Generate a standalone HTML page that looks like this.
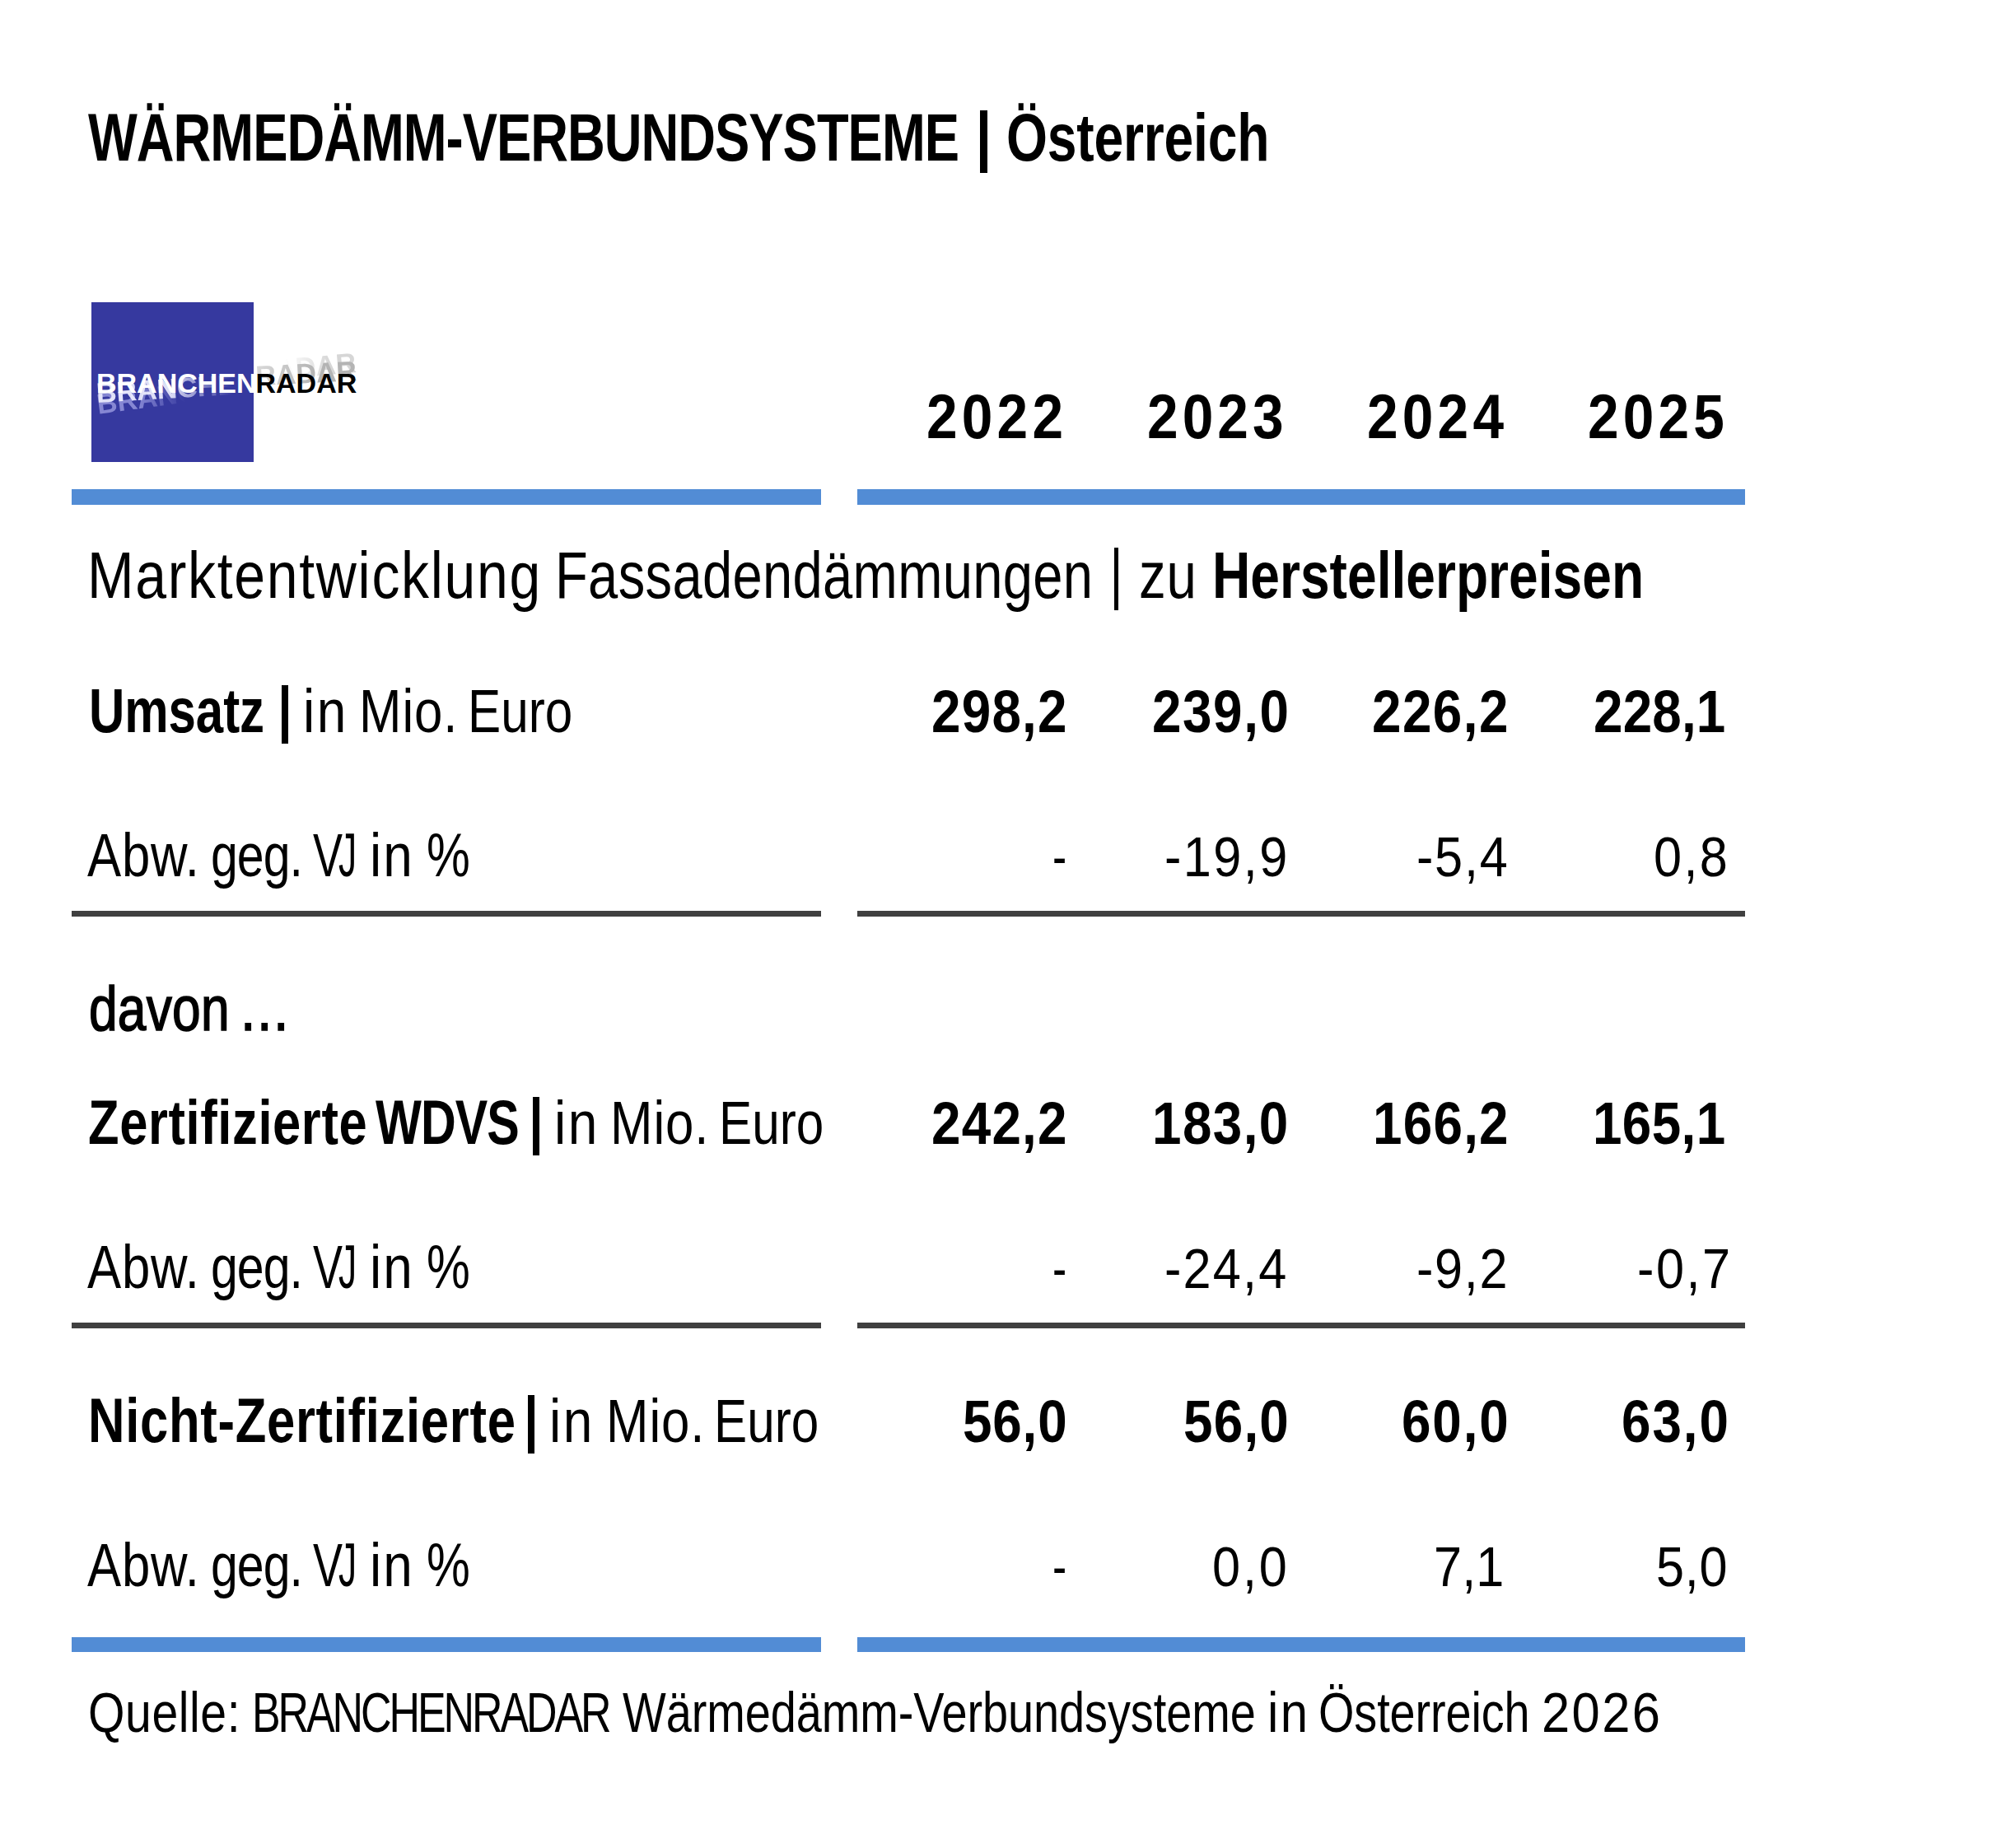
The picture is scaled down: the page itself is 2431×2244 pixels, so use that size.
<!DOCTYPE html>
<html lang="de"><head><meta charset="utf-8"><title>Wärmedämm-Verbundsysteme Österreich</title>
<style>
html,body{margin:0;padding:0;background:#fff;}
body{width:2431px;height:2244px;position:relative;overflow:hidden;font-family:"Liberation Sans",sans-serif;color:#000;}
.t{position:absolute;line-height:1;white-space:nowrap;transform-origin:0 0;}
.bar{position:absolute;background:#528cd5;}
.gl{position:absolute;background:#404040;}
.pp{position:absolute;background:#000;}
.logo{position:absolute;left:111px;top:367px;width:197px;height:194px;background:#36399f;overflow:hidden;}
.lg{position:absolute;line-height:1;white-space:nowrap;font-weight:700;transform-origin:0 0;}
</style></head><body>
<div class="logo">
<div class="lg" style="left:6px;top:81px;font-size:34px;color:#c8c8ff;opacity:.55;transform-origin:197px 24px;transform:rotate(-7.5deg);-webkit-mask-image:linear-gradient(90deg,#000 0,#000 25%,transparent 55%);mask-image:linear-gradient(90deg,#000 0,#000 25%,transparent 55%)">BRANCHEN</div>
<div class="lg" style="left:6px;top:81px;font-size:34px;color:#f0f0ff;opacity:.9;transform-origin:197px 24px;transform:rotate(-3.5deg);-webkit-mask-image:linear-gradient(90deg,#000 0,#000 45%,transparent 85%);mask-image:linear-gradient(90deg,#000 0,#000 45%,transparent 85%)">BRANCHEN</div>
<div class="lg" style="left:6px;top:81px;font-size:34px;color:#fff">BRANCHEN</div>
</div>
<div class="lg" style="left:310.5px;top:448px;font-size:34px;color:#d6d6d6;transform-origin:-165px 24px;transform:rotate(-5deg);-webkit-mask-image:linear-gradient(90deg,transparent 0,transparent 30%,#000 75%);mask-image:linear-gradient(90deg,transparent 0,transparent 30%,#000 75%)">RADAR</div>
<div class="lg" style="left:310.5px;top:448px;font-size:34px;color:#b4b4b4;transform-origin:-165px 24px;transform:rotate(-3deg);-webkit-mask-image:linear-gradient(90deg,rgba(0,0,0,.5) 0,#000 60%);mask-image:linear-gradient(90deg,rgba(0,0,0,.5) 0,#000 60%)">RADAR</div>
<div class="lg" style="left:310.5px;top:448px;font-size:34px;color:#000">RADAR</div>
<div class="bar" style="left:87px;top:594px;width:910px;height:19px"></div>
<div class="bar" style="left:1041px;top:594px;width:1078px;height:19px"></div>
<div class="gl" style="left:87px;top:1106px;width:910px;height:7px"></div>
<div class="gl" style="left:1041px;top:1106px;width:1078px;height:7px"></div>
<div class="gl" style="left:87px;top:1606px;width:910px;height:7px"></div>
<div class="gl" style="left:1041px;top:1606px;width:1078px;height:7px"></div>
<div class="bar" style="left:87px;top:1988px;width:910px;height:18px"></div>
<div class="bar" style="left:1041px;top:1988px;width:1078px;height:18px"></div>
<div class="pp" style="left:1190px;top:134px;width:8.5px;height:76px"></div>
<div class="pp" style="left:1352.5px;top:665px;width:5px;height:76px"></div>
<div class="pp" style="left:341.5px;top:832px;width:8.5px;height:71px"></div>
<div class="pp" style="left:647px;top:1332px;width:8px;height:71px"></div>
<div class="pp" style="left:641px;top:1694px;width:8.3px;height:71px"></div>
<div class="t" style="left:106.50px;top:126.80px;font-size:80.8px;font-weight:700;letter-spacing:-1.23px;transform:scaleX(0.7838)">WÄRMEDÄMM-VERBUNDSYSTEME</div>
<div class="t" style="left:1221.61px;top:126.80px;font-size:80.8px;font-weight:700;letter-spacing:-0.27px;transform:scaleX(0.7952)">Österreich</div>
<div class="t" style="left:1125.22px;top:468.00px;font-size:76px;font-weight:700;letter-spacing:5.82px;transform:scaleX(0.8900)">2022</div>
<div class="t" style="left:1393.22px;top:468.00px;font-size:76px;font-weight:700;letter-spacing:5.67px;transform:scaleX(0.8900)">2023</div>
<div class="t" style="left:1660.22px;top:468.00px;font-size:76px;font-weight:700;letter-spacing:5.83px;transform:scaleX(0.8900)">2024</div>
<div class="t" style="left:1928.22px;top:468.00px;font-size:76px;font-weight:700;letter-spacing:5.75px;transform:scaleX(0.8900)">2025</div>
<div class="t" style="left:105.83px;top:660.00px;font-size:78.8px;letter-spacing:1.96px;transform:scaleX(0.8623)">Marktentwicklung</div>
<div class="t" style="left:674.04px;top:660.00px;font-size:78.8px;letter-spacing:0.38px;transform:scaleX(0.8265)">Fassadendämmungen</div>
<div class="t" style="left:1383.31px;top:660.00px;font-size:78.8px;letter-spacing:0.90px;transform:scaleX(0.8300)">zu</div>
<div class="t" style="left:1471.70px;top:659.00px;font-size:80px;font-weight:700;letter-spacing:0.04px;transform:scaleX(0.8009)">Herstellerpreisen</div>
<div class="t" style="left:107.60px;top:825.80px;font-size:75.1px;font-weight:700;letter-spacing:-0.08px;transform:scaleX(0.7989)">Umsatz</div>
<div class="t" style="left:367.64px;top:827.80px;font-size:73.4px;letter-spacing:2.89px;transform:scaleX(0.8725)">in</div>
<div class="t" style="left:435.85px;top:827.80px;font-size:73.4px;letter-spacing:1.10px;transform:scaleX(0.8421)">Mio.</div>
<div class="t" style="left:567.58px;top:827.80px;font-size:73.4px;letter-spacing:0.02px;transform:scaleX(0.8203)">Euro</div>
<div class="t" style="left:1131.22px;top:828.80px;font-size:71.7px;font-weight:700;letter-spacing:1.36px;transform:scaleX(0.8900)">298,2</div>
<div class="t" style="left:1398.82px;top:828.80px;font-size:71.7px;font-weight:700;letter-spacing:1.76px;transform:scaleX(0.8900)">239,0</div>
<div class="t" style="left:1666.22px;top:828.80px;font-size:71.7px;font-weight:700;letter-spacing:1.62px;transform:scaleX(0.8900)">226,2</div>
<div class="t" style="left:1935.12px;top:828.80px;font-size:71.7px;font-weight:700;letter-spacing:0.16px;transform:scaleX(0.8900)">228,1</div>
<div class="t" style="left:106.20px;top:1001.80px;font-size:73.9px;letter-spacing:0.90px;transform:scaleX(0.8347)">Abw.</div>
<div class="t" style="left:256.40px;top:1001.80px;font-size:73.9px;letter-spacing:-1.21px;transform:scaleX(0.7984)">geg.</div>
<div class="t" style="left:380.10px;top:1001.80px;font-size:73.9px;transform:scaleX(0.7306)">V</div>
<div class="t" style="left:410.70px;top:1001.80px;font-size:73.9px;transform:scaleX(0.6000)">J</div>
<div class="t" style="left:449.47px;top:1001.80px;font-size:73.9px;letter-spacing:2.51px;transform:scaleX(0.8652)">in</div>
<div class="t" style="left:517.69px;top:1001.80px;font-size:73.9px;transform:scaleX(0.8033)">%</div>
<div class="t" style="left:1278.32px;top:1005.80px;font-size:68px;transform:scaleX(0.7588)">-</div>
<div class="t" style="left:1414.10px;top:1005.80px;font-size:68px;letter-spacing:2.72px;transform:scaleX(0.9000)">-19,9</div>
<div class="t" style="left:1720.30px;top:1005.80px;font-size:68px;letter-spacing:1.93px;transform:scaleX(0.9000)">-5,4</div>
<div class="t" style="left:2008.30px;top:1005.80px;font-size:68px;letter-spacing:2.61px;transform:scaleX(0.9000)">0,8</div>
<div class="t" style="left:107.85px;top:1187.70px;font-size:75.3px;-webkit-text-stroke:1.6px #000;letter-spacing:0.35px;transform:scaleX(0.8258)">davon</div>
<div class="t" style="left:291.52px;top:1187.70px;font-size:75.3px;-webkit-text-stroke:1.6px #000;letter-spacing:1.75px;transform:scaleX(0.8806)">...</div>
<div class="t" style="left:106.76px;top:1326.00px;font-size:75.1px;font-weight:700;letter-spacing:0.75px;transform:scaleX(0.8185)">Zertifizierte</div>
<div class="t" style="left:455.60px;top:1326.00px;font-size:75.1px;font-weight:700;letter-spacing:-1.14px;transform:scaleX(0.7879)">WDVS</div>
<div class="t" style="left:672.64px;top:1328.00px;font-size:73.4px;letter-spacing:2.89px;transform:scaleX(0.8725)">in</div>
<div class="t" style="left:740.85px;top:1328.00px;font-size:73.4px;letter-spacing:1.10px;transform:scaleX(0.8421)">Mio.</div>
<div class="t" style="left:872.58px;top:1328.00px;font-size:73.4px;letter-spacing:0.02px;transform:scaleX(0.8203)">Euro</div>
<div class="t" style="left:1131.22px;top:1329.00px;font-size:71.7px;font-weight:700;letter-spacing:1.36px;transform:scaleX(0.8900)">242,2</div>
<div class="t" style="left:1399.44px;top:1329.00px;font-size:71.7px;font-weight:700;letter-spacing:1.58px;transform:scaleX(0.8900)">183,0</div>
<div class="t" style="left:1667.04px;top:1329.00px;font-size:71.7px;font-weight:700;letter-spacing:1.38px;transform:scaleX(0.8900)">166,2</div>
<div class="t" style="left:1934.44px;top:1329.00px;font-size:71.7px;font-weight:700;letter-spacing:0.43px;transform:scaleX(0.8900)">165,1</div>
<div class="t" style="left:106.20px;top:1502.00px;font-size:73.9px;letter-spacing:0.90px;transform:scaleX(0.8347)">Abw.</div>
<div class="t" style="left:256.40px;top:1502.00px;font-size:73.9px;letter-spacing:-1.21px;transform:scaleX(0.7984)">geg.</div>
<div class="t" style="left:380.10px;top:1502.00px;font-size:73.9px;transform:scaleX(0.7306)">V</div>
<div class="t" style="left:410.70px;top:1502.00px;font-size:73.9px;transform:scaleX(0.6000)">J</div>
<div class="t" style="left:449.47px;top:1502.00px;font-size:73.9px;letter-spacing:2.51px;transform:scaleX(0.8652)">in</div>
<div class="t" style="left:517.69px;top:1502.00px;font-size:73.9px;transform:scaleX(0.8033)">%</div>
<div class="t" style="left:1278.32px;top:1506.00px;font-size:68px;transform:scaleX(0.7588)">-</div>
<div class="t" style="left:1414.10px;top:1506.00px;font-size:68px;letter-spacing:2.47px;transform:scaleX(0.9000)">-24,4</div>
<div class="t" style="left:1720.30px;top:1506.00px;font-size:68px;letter-spacing:1.85px;transform:scaleX(0.9000)">-9,2</div>
<div class="t" style="left:1987.50px;top:1506.00px;font-size:68px;letter-spacing:2.78px;transform:scaleX(0.9000)">-0,7</div>
<div class="t" style="left:107.10px;top:1687.80px;font-size:75.1px;font-weight:700;letter-spacing:0.84px;transform:scaleX(0.8203)">Nicht-Zertifizierte</div>
<div class="t" style="left:667.44px;top:1689.80px;font-size:73.4px;letter-spacing:2.89px;transform:scaleX(0.8725)">in</div>
<div class="t" style="left:735.65px;top:1689.80px;font-size:73.4px;letter-spacing:1.10px;transform:scaleX(0.8421)">Mio.</div>
<div class="t" style="left:867.38px;top:1689.80px;font-size:73.4px;letter-spacing:0.02px;transform:scaleX(0.8203)">Euro</div>
<div class="t" style="left:1169.22px;top:1690.80px;font-size:71.7px;font-weight:700;letter-spacing:0.92px;transform:scaleX(0.8900)">56,0</div>
<div class="t" style="left:1437.02px;top:1690.80px;font-size:71.7px;font-weight:700;letter-spacing:1.37px;transform:scaleX(0.8900)">56,0</div>
<div class="t" style="left:1701.92px;top:1690.80px;font-size:71.7px;font-weight:700;letter-spacing:2.12px;transform:scaleX(0.8900)">60,0</div>
<div class="t" style="left:1969.22px;top:1690.80px;font-size:71.7px;font-weight:700;letter-spacing:2.19px;transform:scaleX(0.8900)">63,0</div>
<div class="t" style="left:106.20px;top:1863.90px;font-size:73.9px;letter-spacing:0.90px;transform:scaleX(0.8347)">Abw.</div>
<div class="t" style="left:256.40px;top:1863.90px;font-size:73.9px;letter-spacing:-1.21px;transform:scaleX(0.7984)">geg.</div>
<div class="t" style="left:380.10px;top:1863.90px;font-size:73.9px;transform:scaleX(0.7306)">V</div>
<div class="t" style="left:410.70px;top:1863.90px;font-size:73.9px;transform:scaleX(0.6000)">J</div>
<div class="t" style="left:449.47px;top:1863.90px;font-size:73.9px;letter-spacing:2.51px;transform:scaleX(0.8652)">in</div>
<div class="t" style="left:517.69px;top:1863.90px;font-size:73.9px;transform:scaleX(0.8033)">%</div>
<div class="t" style="left:1278.32px;top:1867.90px;font-size:68px;transform:scaleX(0.7588)">-</div>
<div class="t" style="left:1472.20px;top:1867.90px;font-size:68px;letter-spacing:3.17px;transform:scaleX(0.9000)">0,0</div>
<div class="t" style="left:1740.50px;top:1867.90px;font-size:68px;letter-spacing:0.17px;transform:scaleX(0.9000)">7,1</div>
<div class="t" style="left:2011.20px;top:1867.90px;font-size:68px;letter-spacing:0.83px;transform:scaleX(0.9000)">5,0</div>
<div class="t" style="left:106.99px;top:2045.00px;font-size:68.3px;letter-spacing:0.69px;transform:scaleX(0.8367)">Quelle:</div>
<div class="t" style="left:306.00px;top:2045.00px;font-size:68.3px;letter-spacing:-4.02px;transform:scaleX(0.7603)">BRANCHENRADAR</div>
<div class="t" style="left:756.00px;top:2045.00px;font-size:68.3px;letter-spacing:-0.08px;transform:scaleX(0.8183)">Wärmedämm-Verbundsysteme</div>
<div class="t" style="left:1539.49px;top:2045.00px;font-size:68.3px;letter-spacing:2.91px;transform:scaleX(0.8767)">in</div>
<div class="t" style="left:1601.35px;top:2045.00px;font-size:68.3px;letter-spacing:-0.11px;transform:scaleX(0.8173)">Österreich</div>
<div class="t" style="left:1872.00px;top:2045.00px;font-size:68.3px;letter-spacing:2.67px;transform:scaleX(0.9000)">2026</div>
</body></html>
